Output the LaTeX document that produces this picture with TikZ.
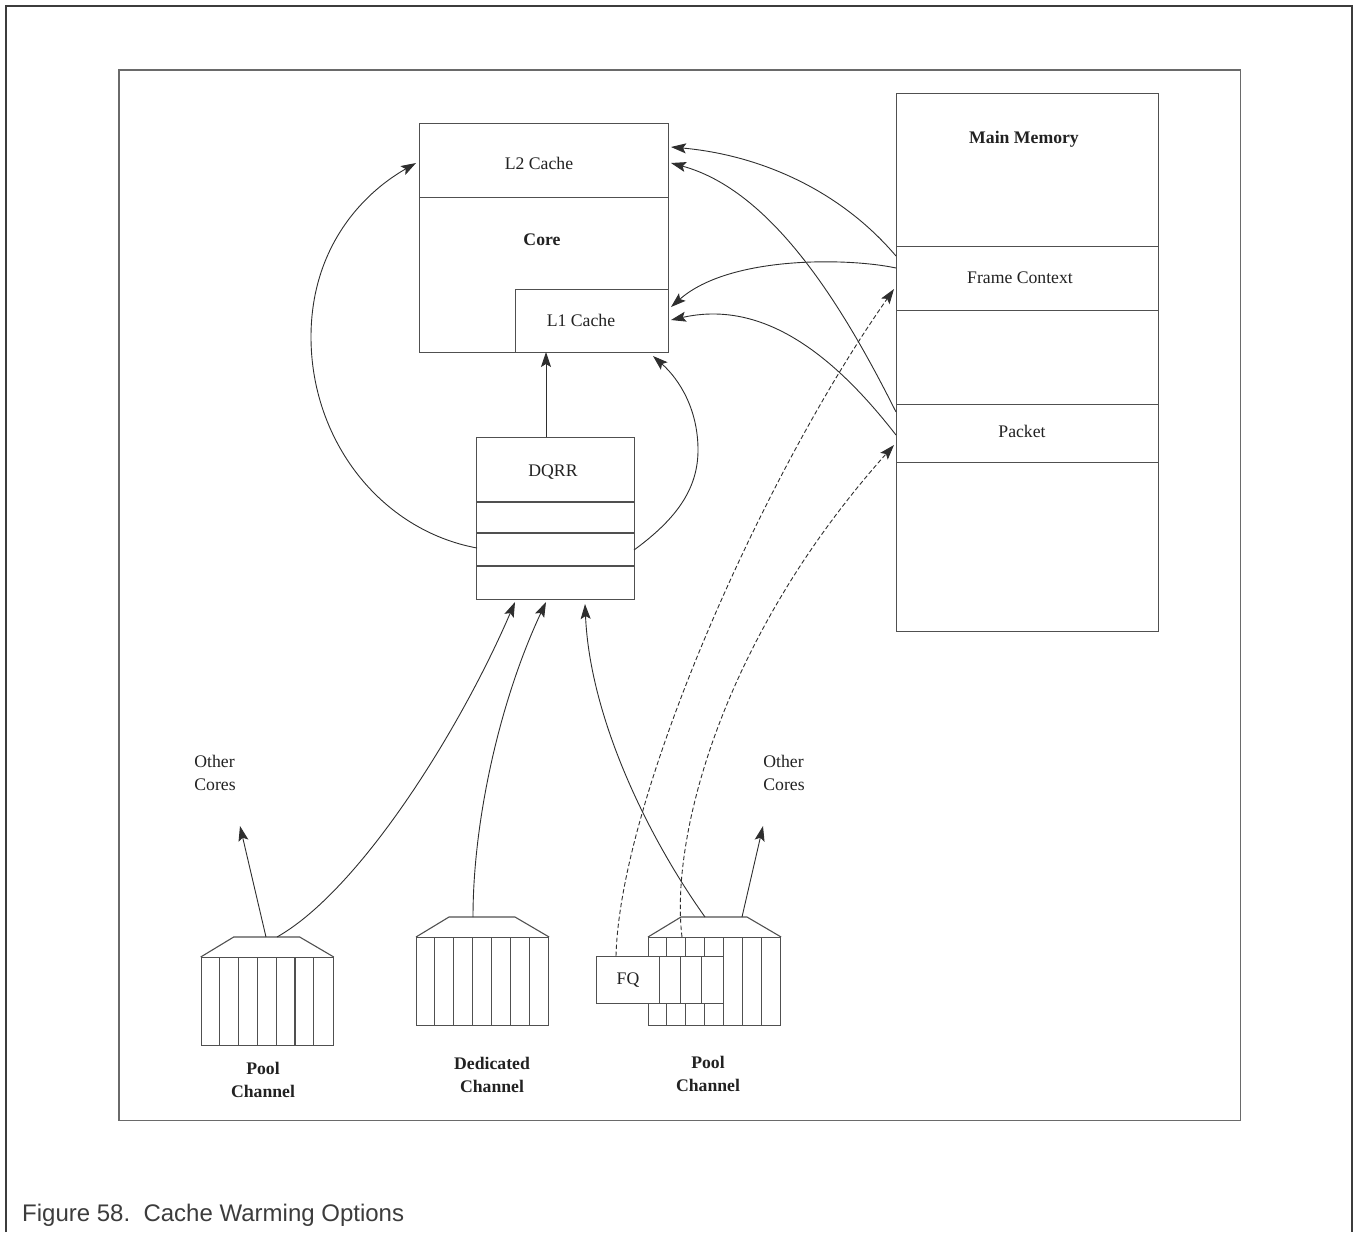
\documentclass[tikz,border=0pt]{standalone}
\usepackage{fontspec}
\setmainfont{Liberation Serif}
\newfontfamily\capfont{Liberation Sans}
\usetikzlibrary{arrows.meta}
\definecolor{linec}{HTML}{2E2E2E}
\definecolor{boxc}{HTML}{505050}
\definecolor{framec}{HTML}{3C3C3C}
\definecolor{innerc}{HTML}{6A6A6A}
\definecolor{txtc}{HTML}{222222}
\tikzset{
  box/.style={draw=boxc, line width=1.1pt, fill=white, inner sep=0pt, anchor=north west},
  divline/.style={draw=boxc, line width=1.1pt},
  conn/.style={draw=linec, line width=0.9pt, -{Stealth[length=15pt,width=10pt,inset=3pt]}},
  dconn/.style={conn, dash pattern=on 4.5pt off 2.5pt},
  lbl/.style={text=txtc, font=\fontsize{17.7}{23}\selectfont, inner sep=0pt, align=center},
  blbl/.style={lbl, font=\fontsize{17.7}{23}\selectfont\bfseries},
}
\newcommand{\qchan}[3]{%
  \node[box, minimum width=132pt, minimum height=88pt] (#1) at (#2,#3) {};
  \foreach \i in {1,...,6}
    \draw[divline] ([xshift=\i*18.857pt]#1.north west) -- ([xshift=\i*18.857pt]#1.south west);
  \draw[divline] (#1.north west) -- ++(33,-20) coordinate (#1-tl) -- ++(66,0) coordinate (#1-tr) -- (#1.north east);
}
\begin{document}
\begin{tikzpicture}[x=1pt,y=-1pt]
\useasboundingbox (0,0) rectangle (1354,1232);
% frames
\draw[framec, line width=2.8pt] (6,1232) -- (6,6) -- (1352,6) -- (1352,1232);
\draw[innerc, line width=1.3pt] (119,70) rectangle (1240.5,1120.5);

% core
\node[box, minimum width=249pt, minimum height=229pt] (core) at (419,123) {};
\node[box, minimum width=249pt, minimum height=74pt] (l2) at (419,123) {};
\node[box, minimum width=153pt, minimum height=63pt] (l1) at (515,289) {};
\node[lbl] (l2t) at (539,163) {L2 Cache};
\node[blbl] (coret) at (542,240) {Core};
\node[lbl] (l1t) at (581,320) {L1 Cache};

% main memory
\node[box, minimum width=262pt, minimum height=538pt] (mm) at (896,93) {};
\node[box, minimum width=262pt, minimum height=64pt] (fc) at (896,246) {};
\node[box, minimum width=262pt, minimum height=58pt] (pk) at (896,404) {};
\node[blbl] (mmt) at (1024,139) {Main Memory};
\node[lbl] (fct) at (1020,278) {Frame Context};
\node[lbl] (pkt) at (1022,431) {Packet};

% DQRR
\node[box, minimum width=158pt, minimum height=162pt] (dqrr) at (476,437) {};
\draw[divline] (476,502) -- (634,502);
\draw[divline] (476,533) -- (634,533);
\draw[divline] (476,566) -- (634,566);
\node[lbl] (dqrrt) at (553,472) {DQRR};

% channels
\qchan{poolL}{200.7}{957}
\qchan{ded}{416}{937}
\qchan{poolR}{648}{937}
\node[box, minimum width=127pt, minimum height=47pt] (fq) at (596,956) {};
\draw[divline] (659.3,956) -- (659.3,1003);
\draw[divline] (680.7,956) -- (680.7,1003);
\draw[divline] (701.7,956) -- (701.7,1003);
\node[lbl] (fqt) at (628,980) {FQ};

\node[blbl] (poolLt) at (263,1080) {Pool\\Channel};
\node[blbl] (dedt) at (492,1075) {Dedicated\\Channel};
\node[blbl] (poolRt) at (708,1074) {Pool\\Channel};
\node[lbl, align=left] (ocL) at (215,773) {Other\\Cores};
\node[lbl, align=left] (ocR) at (784,773) {Other\\Cores};

% connector end points
\coordinate (mmA) at (896,256);
\coordinate (fcA) at (896,268);
\coordinate (pkA) at (896,412);
\coordinate (pkB) at (896,435);
\coordinate (l2A) at (671,147);
\coordinate (l2B) at (671,163);
\coordinate (l1A) at (671,307);
\coordinate (l1B) at (671,320);
\coordinate (l2W) at (416,163);
\coordinate (l1S) at (546,352);
\coordinate (l1SE) at (653,356);
\coordinate (dqW) at (477,548);
\coordinate (dqE) at (634,550);
\coordinate (dqN) at (546,437);
\coordinate (dqS1) at (515,602);
\coordinate (dqS2) at (546,602);
\coordinate (dqS3) at (585,604);
\coordinate (pLa) at (277,937);
\coordinate (pLb) at (266,937);
\coordinate (dedA) at (473,917);
\coordinate (pRa) at (705,917);
\coordinate (pRb) at (742,917);
\coordinate (ocLtip) at (240,826);
\coordinate (ocRtip) at (763,826);
\coordinate (fqA) at (616,956);
\coordinate (pRc) at (682,937);
\coordinate (fcT) at (894,289);
\coordinate (pkT) at (894,445);

% memory to caches
\draw[conn] (mmA) .. controls (840,190) and (760,155) .. (l2A);
\draw[conn] (pkA) .. controls (840,300) and (770,190) .. (l2B);
\draw[conn] (fcA) .. controls (850,258) and (730,255) .. (l1A);
\draw[conn] (pkB) .. controls (830,350) and (760,300) .. (l1B);

% DQRR to caches
\draw[conn] (dqW) .. controls (380,530) and (311,440) .. (311,337) .. controls (311,250) and (360,195) .. (l2W);
\draw[conn] (dqE) .. controls (675,520) and (698,490) .. (698,450) .. controls (698,410) and (680,380) .. (l1SE);
\draw[conn] (dqN) -- (l1S);

% channels to DQRR
\draw[conn] (pLa) .. controls (360,890) and (460,730) .. (dqS1);
\draw[conn] (dedA) .. controls (473,820) and (500,700) .. (dqS2);
\draw[conn] (pRa) .. controls (650,840) and (590,720) .. (dqS3);

% other cores
\draw[conn] (pLb) -- (ocLtip);
\draw[conn] (pRb) -- (ocRtip);

% dashed to memory
\draw[dconn] (fqA) .. controls (620,800) and (760,480) .. (fcT);
\draw[dconn] (pRc) .. controls (670,840) and (720,640) .. (pkT);

% caption
\node[anchor=base west, inner sep=0pt, text=framec, font=\capfont\fontsize{24}{28}\selectfont] (cap) at (22,1221) {Figure 58.\ \ Cache Warming Options};
\end{tikzpicture}
\end{document}
